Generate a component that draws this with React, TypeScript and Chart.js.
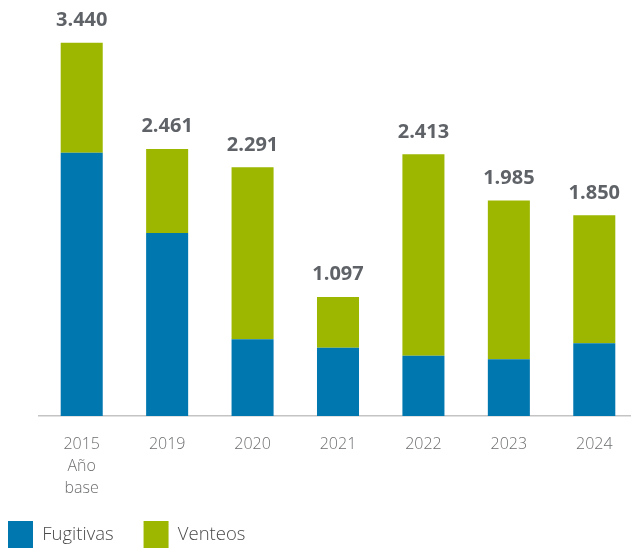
import React, { useEffect, useRef } from "react";
import { Chart, registerables } from "chart.js";

Chart.register(...registerables);

// ---- data ----
const categories: (string | string[])[] = [["2015", "Año", "base"], "2019", "2020", "2021", "2022", "2023", "2024"];
const fugitivas = [2426, 1686, 707, 629, 556, 522, 670];
const venteos = [1014, 775, 1584, 468, 1857, 1463, 1180];
const totals = [3440, 2461, 2291, 1097, 2413, 1985, 1850];
const seriesNames = ["Fugitivas", "Venteos"];
const yMax = 3800;

const BLUE = "#0077AE";
const GREEN = "#9DB700";
const FONT = "'Open Sans', 'Noto Sans', sans-serif";

function fmt(n: number): string {
  return String(n).replace(/\B(?=(\d{3})+(?!\d))/g, ".");
}

const totalsPlugin = {
  id: "totalsLabels",
  afterDatasetsDraw(chart: any) {
    const ctx = chart.ctx;
    const meta = chart.getDatasetMeta(chart.data.datasets.length - 1);
    ctx.save();
    ctx.font = `bold 20px ${FONT}`;
    ctx.fillStyle = "#5f6368";
    ctx.textAlign = "center";
    ctx.textBaseline = "alphabetic";
    meta.data.forEach((el: any, i: number) => {
      ctx.fillText(fmt(totals[i]), el.x, el.y - 16.5);
    });
    ctx.restore();
  },
};

const legendPlace = {
  id: "legendPlace",
  afterLayout(chart: any) {
    const l = chart.legend;
    if (!l) return;
    const pad = 30;
    const dx = 8 - (l.left + pad);
    const dy = 521 - (l.top + pad);
    l.left += dx;
    l.right += dx;
    l.top += dy;
    l.bottom += dy;
  },
};

export default function App() {
  const ref = useRef<HTMLCanvasElement>(null);

  useEffect(() => {
    if (!ref.current) return;
    const chart = new Chart(ref.current, {
      type: "bar",
      data: {
        labels: categories,
        datasets: [
          {
            label: seriesNames[0],
            data: fugitivas,
            backgroundColor: BLUE,
            borderWidth: 0,
            barPercentage: 0.492,
            categoryPercentage: 1,
          },
          {
            label: seriesNames[1],
            data: venteos,
            backgroundColor: GREEN,
            borderWidth: 0,
            barPercentage: 0.492,
            categoryPercentage: 1,
          },
        ],
      },
      options: {
        responsive: false,
        animation: false,
        devicePixelRatio: 1,
        layout: { padding: { left: 39, right: 0, top: 3.6, bottom: -33 } },
        plugins: {
          legend: {
            position: "bottom",
            align: "start",
            labels: {
              boxWidth: 25,
              boxHeight: 27,
              padding: 30,
              color: "#4a4a4a",
              font: { family: FONT, size: 18.5, weight: "300" },
            },
          },
          tooltip: { enabled: false },
        },
        scales: {
          x: {
            stacked: true,
            grid: { display: false, drawTicks: false },
            border: { display: true, color: "#c4c4c4", width: 1.5 },
            ticks: {
              color: "#6d6e70",
              padding: 17,
              maxRotation: 0,
              autoSkip: false,
              font: { family: FONT, size: 16, lineHeight: "22px", weight: "300" },
            },
            afterFit(scale: any) {
              scale.height = 100;
            },
          },
          y: {
            stacked: true,
            display: false,
            min: 0,
            max: yMax,
          },
        },
      },
      plugins: [totalsPlugin, legendPlace],
    });
    return () => chart.destroy();
  }, []);

  return (
    <div
      style={{
        position: "absolute",
        left: 0,
        top: 0,
        width: 631,
        height: 550,
        overflow: "hidden",
        background: "#ffffff",
      }}
    >
      <canvas ref={ref} width={637} height={550} style={{ display: "block", width: 637, height: 550 }} />
    </div>
  );
}
